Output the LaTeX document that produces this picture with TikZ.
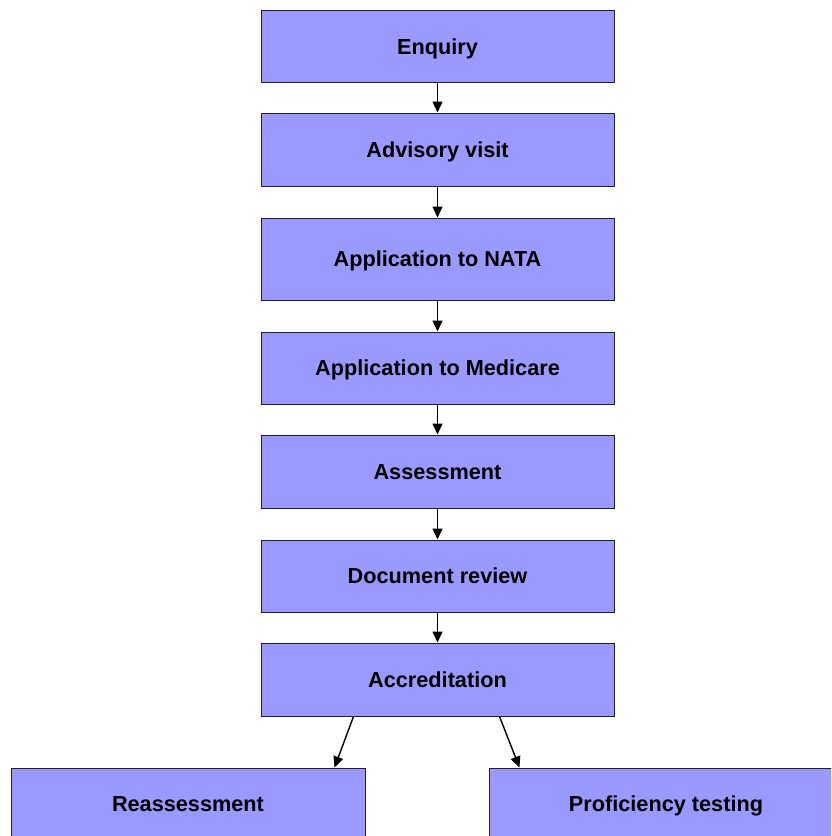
\documentclass[tikz,border=0pt]{standalone}
\usepackage{fontspec}
\setmainfont{Liberation Sans}
\usetikzlibrary{arrows.meta,calc}
\definecolor{boxfill}{HTML}{9999FF}
\definecolor{boxline}{HTML}{202020}
\begin{document}
\begin{tikzpicture}[x=1pt,y=1pt,
  stepbox/.style={draw=boxline, line width=1pt, fill=boxfill, minimum width=353pt,
    inner sep=0pt, font=\fontsize{21.7pt}{24pt}\selectfont\bfseries,
    text height=15.5pt, text depth=0pt},
  lowbox/.style={stepbox, minimum width=354pt, minimum height=72pt},
  flow/.style={line width=1.4pt, -{Triangle[length=11pt,width=10pt]}}]
\useasboundingbox (0,0) rectangle (831,-836);
\clip (0,0) rectangle (831,-836);
\node[stepbox, minimum height=72pt] (enq) at (437.5,-46.5) {Enquiry};
\node[stepbox, minimum height=73pt] (adv) at (437.5,-149.5) {Advisory visit};
\node[stepbox, minimum height=82pt] (nata) at (437.5,-259) {Application to NATA};
\node[stepbox, minimum height=72pt] (med) at (437.5,-368) {Application to Medicare};
\node[stepbox, minimum height=73pt] (ass) at (437.5,-471.5) {Assessment};
\node[stepbox, minimum height=72pt] (doc) at (437.5,-576) {Document review};
\node[stepbox, minimum height=73pt] (acc) at (437.5,-679.5) {Accreditation};
\node[lowbox] (rea) at (188,-804) {Reassessment};
\node[lowbox] (prof) at (666,-804) {Proficiency testing};
\draw[flow] (enq) -- (adv);
\draw[flow] (adv) -- (nata);
\draw[flow] (nata) -- (med);
\draw[flow] (med) -- (ass);
\draw[flow] (ass) -- (doc);
\draw[flow] (doc) -- (acc);
\coordinate (a1) at ($(acc.south west)+(93,0)$);
\coordinate (b1) at ($(rea.north east)+(-31,0)$);
\coordinate (a2) at ($(acc.south west)+(239,0)$);
\coordinate (b2) at ($(prof.north west)+(31,0)$);
\draw[flow] (a1) -- (b1);
\draw[flow] (a2) -- (b2);
\end{tikzpicture}
\end{document}
